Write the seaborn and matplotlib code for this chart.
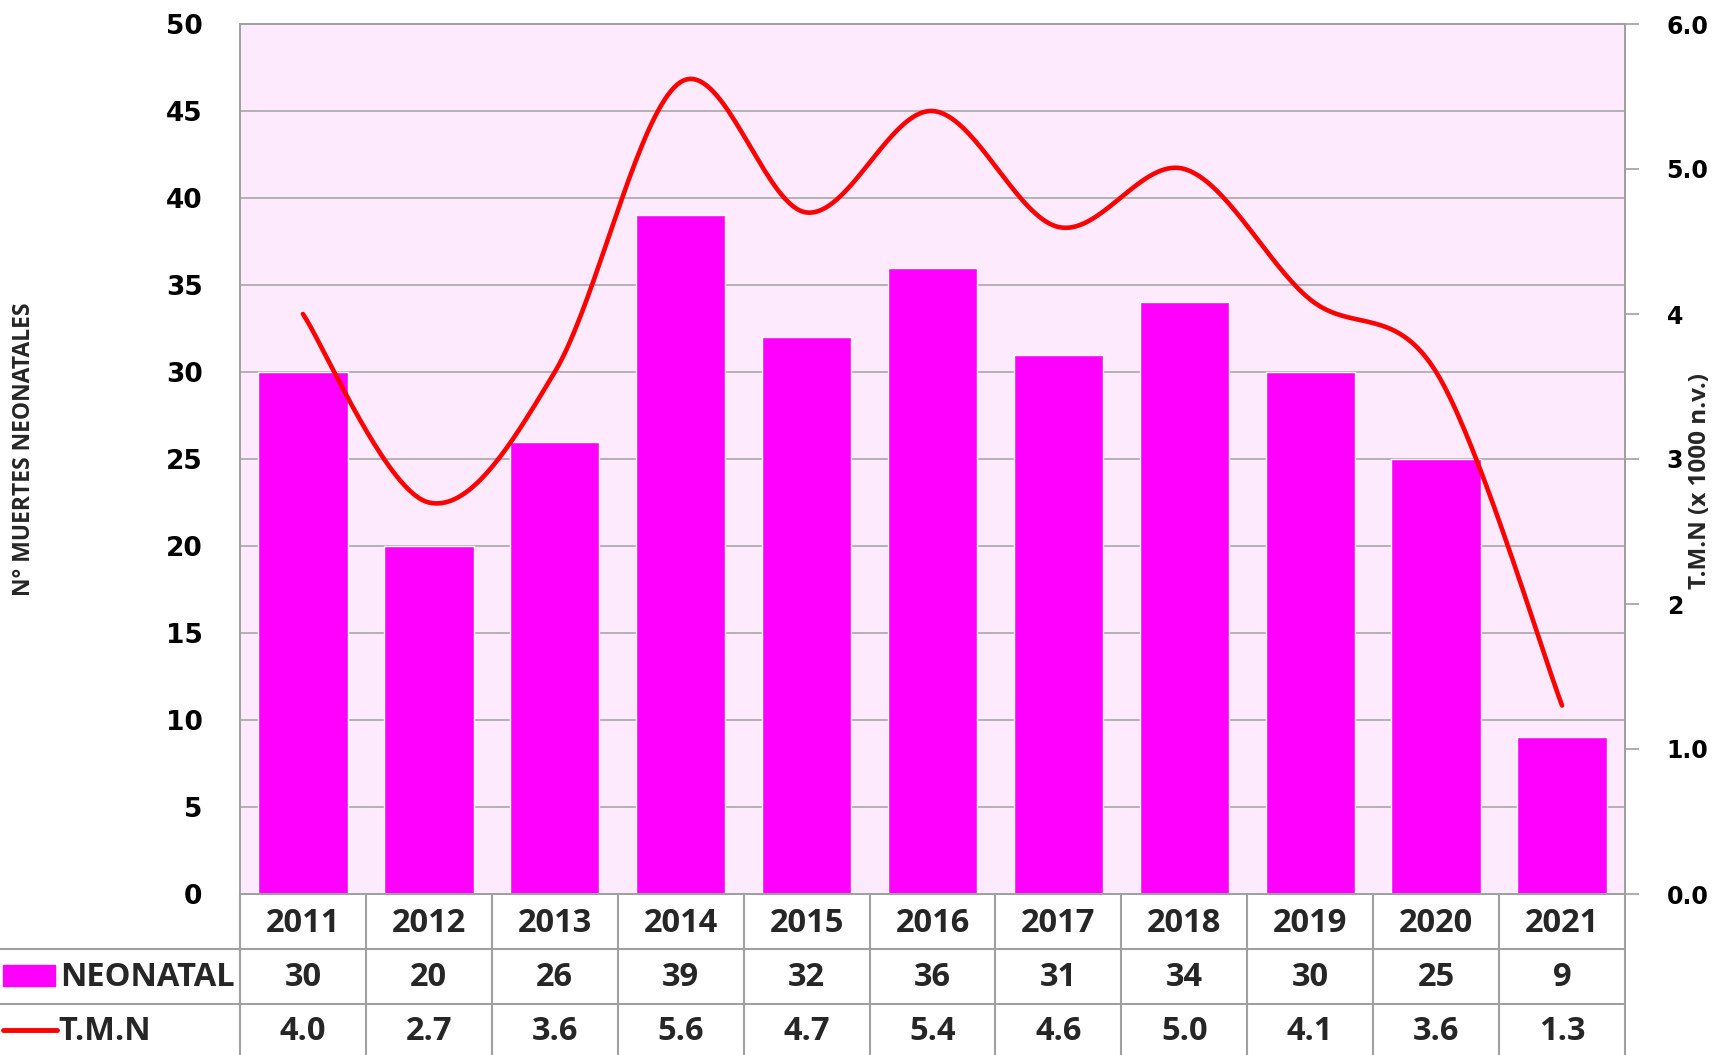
import numpy as np
import pandas as pd
import matplotlib
matplotlib.use("Agg")
import matplotlib.pyplot as plt
import seaborn as sns
from matplotlib.transforms import blended_transform_factory
from matplotlib.lines import Line2D
from matplotlib.patches import Rectangle

years = ["2011", "2012", "2013", "2014", "2015", "2016", "2017", "2018", "2019", "2020", "2021"]
neonatal = [30, 20, 26, 39, 32, 36, 31, 34, 30, 25, 9]
tmn = [4.0, 2.7, 3.6, 5.6, 4.7, 5.4, 4.6, 5.0, 4.1, 3.6, 1.3]
left_ticks = list(range(0, 51, 5))
right_ticks = [0, 1, 2, 3, 4, 5, 6]
right_tick_labels = ["0.0", "1.0", "2", "3", "4", "5.0", "6.0"]

sns.set_theme(style="white")
plt.rcParams["font.family"] = ["DejaVu Sans"]

W, H = 1715, 1055
L, R, T, B = 240, 1625, 24, 894
GRAY = "#A0A0A0"
MAGENTA = "#FF00FF"
RED = "#FF0000"
TABLE_FONT = ["Open Sans", "DejaVu Sans"]
TSIZE = 23.5


def fy(px):
    return 1 - px / H


def smooth(xv, yv, n=40, yscale=1.15):
    # Excel-style smoothed line (Bezier through the data points)
    x = np.asarray(xv, float)
    y = np.asarray(yv, float) * yscale
    px = np.concatenate([[x[0]], x, [x[-1]]])
    py = np.concatenate([[y[0]], y, [y[-1]]])
    out_x, out_y = [], []
    t = np.linspace(0, 1, n)
    for i in range(1, len(px) - 2):
        p0 = np.array([px[i], py[i]])
        p3 = np.array([px[i + 1], py[i + 1]])
        c1 = p0 + (np.array([px[i + 1], py[i + 1]]) - np.array([px[i - 1], py[i - 1]])) / 6
        c2 = p3 - (np.array([px[i + 2], py[i + 2]]) - np.array([px[i], py[i]])) / 6
        pts = ((1 - t) ** 3)[:, None] * p0 + (3 * (1 - t) ** 2 * t)[:, None] * c1 \
            + (3 * (1 - t) * t ** 2)[:, None] * c2 + (t ** 3)[:, None] * p3
        out_x.extend(pts[:, 0])
        out_y.extend(pts[:, 1])
    return np.array(out_x), np.array(out_y) / yscale


fig = plt.figure(figsize=(W / 100, H / 100), dpi=100)
ax = fig.add_axes([L / W, 1 - B / H, (R - L) / W, (B - T) / H])

df = pd.DataFrame({"year": years, "neonatal": neonatal})
sns.barplot(data=df, x="year", y="neonatal", color=MAGENTA, saturation=1, width=0.71, ax=ax)
ax.set_facecolor("#FDEBFD")
ax.set_xlim(-0.5, 10.5)
ax.set_ylim(0, 50)
ax.set_yticks(left_ticks)
ax.yaxis.grid(True, color=GRAY, lw=1.1)
ax.set_axisbelow(True)
ax.set_xticks([])
ax.set_xlabel("")
ax.set_ylabel("")
ax.tick_params(axis="y", length=0, pad=27, labelsize=19)
plt.setp(ax.get_yticklabels(), fontweight="bold", color="black")
for s in ax.spines.values():
    s.set_color(GRAY)
    s.set_linewidth(1.3)

ax2 = ax.twinx()
ax2.set_ylim(0, 6)
ax2.set_yticks(right_ticks, right_tick_labels)
ax2.tick_params(axis="y", length=10, width=1.2, color=GRAY, pad=20, labelsize=17)
plt.setp(ax2.get_yticklabels(), fontweight="bold", color="black")
ax2.grid(False)
for s in ax2.spines.values():
    s.set_color(GRAY)
    s.set_linewidth(1.3)

sx, sy = smooth(range(len(tmn)), tmn)
ax2.plot(sx, sy, color=RED, lw=3.3, solid_capstyle="round")

# axis titles (condensed bold)
fig.text(24 / W, fy(449), "N° MUERTES NEONATALES", rotation=90, ha="center", va="center",
         fontsize=16.5, fontweight="bold", fontstretch="condensed", family=TABLE_FONT)
fig.text(1700 / W, fy(481), "T.M.N (x 1000 n.v.)", rotation=90, ha="center", va="center",
         fontsize=17.5, fontweight="bold", fontstretch="condensed", family=TABLE_FONT)

# data table below the chart
trans = blended_transform_factory(ax.transData, fig.transFigure)
for k in range(len(years) + 1):
    ax.add_line(Line2D([k - 0.5, k - 0.5], [fy(B), fy(H)], transform=trans,
                       color=GRAY, lw=1.5, clip_on=False))
for ypx in [949, 1004]:
    fig.add_artist(Line2D([0, R / W], [fy(ypx), fy(ypx)], color=GRAY, lw=1.5))

for i, yr in enumerate(years):
    ax.text(i, fy(923), yr, transform=trans, ha="center", va="center", fontsize=TSIZE,
            fontweight="bold", family=TABLE_FONT, clip_on=False)
    ax.text(i, fy(978), str(neonatal[i]), transform=trans, ha="center", va="center", fontsize=TSIZE,
            fontweight="bold", family=TABLE_FONT, clip_on=False)
    ax.text(i, fy(1032), f"{tmn[i]:.1f}", transform=trans, ha="center", va="center", fontsize=TSIZE,
            fontweight="bold", family=TABLE_FONT, clip_on=False)

fig.add_artist(Rectangle((3 / W, fy(986)), 52 / W, 21 / H, color=MAGENTA, transform=fig.transFigure))
fig.add_artist(Line2D([3 / W, 57 / W], [fy(1030), fy(1030)], color=RED, lw=3.5, solid_capstyle="round"))
fig.text(60 / W, fy(978), "NEONATAL", ha="left", va="center", fontsize=TSIZE, fontweight="bold", family=TABLE_FONT)
fig.text(58 / W, fy(1032), "T.M.N", ha="left", va="center", fontsize=TSIZE, fontweight="bold", family=TABLE_FONT)

fig.savefig("out.png", dpi=100)
plt.close(fig)
